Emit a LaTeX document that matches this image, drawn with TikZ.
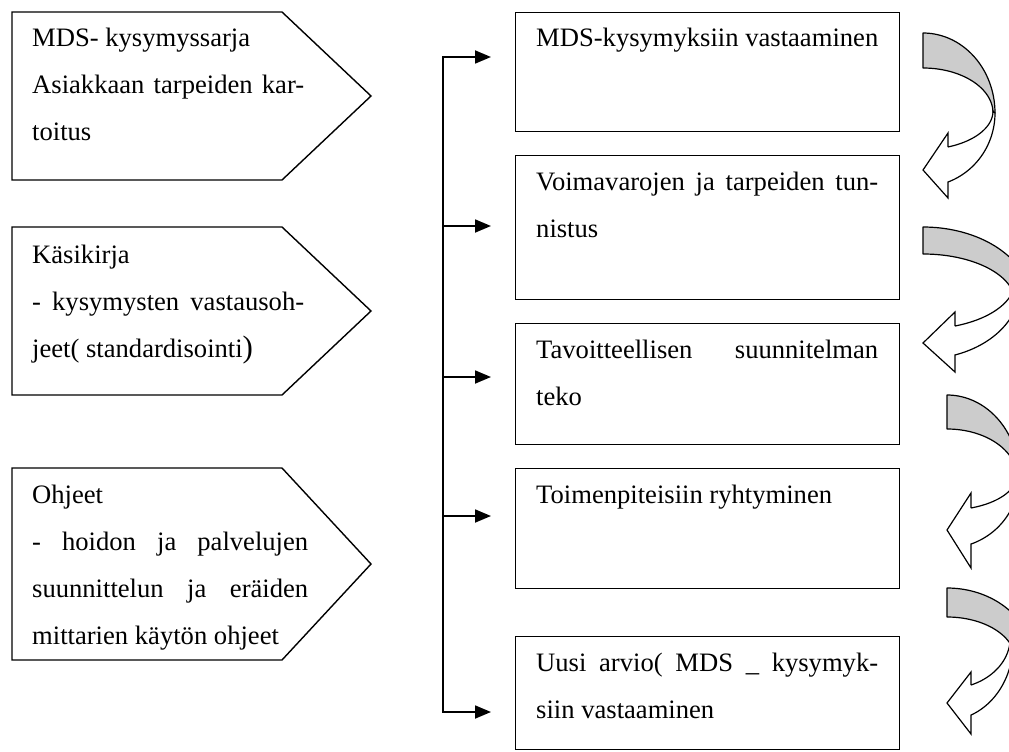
\documentclass[tikz,border=0pt]{standalone}
\usepackage{fontspec}
\setmainfont{Liberation Serif}
\usetikzlibrary{arrows.meta}
\begin{document}
\begin{tikzpicture}[x=1pt,y=-1pt,
  tagshape/.style={draw=black, line width=1.4pt, line join=miter},
  rbox/.style={draw=black, line width=1.4pt, rectangle, inner sep=0pt, anchor=north west},
  txt/.style={anchor=base west, inner sep=0pt, font=\fontsize{26.6}{47}\selectfont},
  bus/.style={line width=1.8pt},
  feed/.style={line width=1.8pt, -{Triangle[length=16pt,width=13pt]}},
  backband/.style={fill=black!20, draw=black, line width=1.2pt, line join=round},
  frontband/.style={fill=white, draw=black, line width=1.2pt, line join=miter},
]
\useasboundingbox (0,0) rectangle (1009,752);
\fill[white] (0,0) rectangle (1009,752);

% ---- source documents (tag shapes) ----
\draw[tagshape] (12,12) -- (282,12) -- (371,96) -- (282,180) -- (12,180) -- cycle;
\draw[tagshape] (12,227) -- (282,227) -- (371,311) -- (282,395) -- (12,395) -- cycle;
\draw[tagshape] (12,468) -- (282,468) -- (371,564) -- (282,660) -- (12,660) -- cycle;

\node[txt] (p1) at (32,47) {\parbox[t]{280pt}{MDS- kysymyssarja\\
  \makebox[272pt][s]{Asiakkaan tarpeiden kar-}\\
  toitus}};
\node[txt] (p2) at (32,263) {\parbox[t]{280pt}{Käsikirja\\
  \makebox[272pt][s]{- kysymysten vastausoh-}\\
  jeet( standardisointi{\fontsize{31}{47}\selectfont )}}};
\node[txt] (p3) at (32,503) {\parbox[t]{280pt}{Ohjeet\\
  \makebox[276pt][s]{- hoidon ja palvelujen}\\
  \makebox[276pt][s]{suunnittelun ja eräiden}\\
  mittarien käytön ohjeet}};

% ---- process steps ----
\node[rbox, minimum width=384pt, minimum height=119pt] (b1) at (515,12) {};
\node[rbox, minimum width=384pt, minimum height=144pt] (b2) at (515,155) {};
\node[rbox, minimum width=384pt, minimum height=121pt] (b3) at (515,323) {};
\node[rbox, minimum width=384pt, minimum height=120pt] (b4) at (515,468) {};
\node[rbox, minimum width=384pt, minimum height=113pt] (b5) at (515,636) {};

\node[txt] (t1) at (536,47) {MDS-kysymyksiin vastaaminen};
\node[txt] (t2) at (536,190) {\parbox[t]{350pt}{%
  \makebox[342pt][s]{Voimavarojen ja tarpeiden tun-}\\
  nistus}};
\node[txt] (t3) at (536,358) {\parbox[t]{350pt}{%
  \makebox[342pt][s]{Tavoitteellisen suunnitelman}\\
  teko}};
\node[txt] (t4) at (536,503) {Toimenpiteisiin ryhtyminen};
\node[txt] (t5) at (536,671) {\parbox[t]{350pt}{%
  \makebox[342pt][s]{Uusi arvio( MDS \_ kysymyk-}\\
  siin vastaaminen}};

% ---- distribution bus ----
\coordinate (j1) at (443,57);
\coordinate (j2) at (443,226);
\coordinate (j3) at (443,377);
\coordinate (j4) at (443,516);
\coordinate (j5) at (443,712);
\coordinate (a1) at (491,57);
\coordinate (a2) at (491,226);
\coordinate (a3) at (491,377);
\coordinate (a4) at (491,516);
\coordinate (a5) at (491,712);

\draw[feed] (j3) -- (j1) -- (a1);
\draw[feed] (j3) -- (j5) -- (a5);
\draw[feed] (j2) -- (a2);
\draw[feed] (j3) -- (a3);
\draw[feed] (j4) -- (a4);

% ---- curved return arrows ----
\begin{scope}
\clip (0,0) rectangle (1009,752);

\begin{scope}[shift={(923,33)}]
  \path[backband] plot[domain=0:90, samples=40] ({72*cos(\x-90)},{80+80*sin(\x-90)})
    -- plot[domain=0:90, samples=40] ({70*cos(-\x)},{80+45*sin(-\x)}) -- cycle;
  \path[frontband] plot[domain=0:69.68, samples=40] ({72*cos(\x)},{80+73.6*sin(\x)})
    -- (25,165) -- (0,137) -- (25,100) -- (25,114)
    -- plot[domain=0:69.08, samples=40] ({70*cos(69.08-\x)},{78+38.5*sin(69.08-\x)}) -- cycle;
\end{scope}

\begin{scope}[shift={(923,227)}]
  \path[backband] plot[domain=0:90, samples=40] ({108*cos(\x-90)},{75+75*sin(\x-90)})
    -- plot[domain=0:90, samples=40] ({92*cos(-\x)},{75+48*sin(-\x)}) -- cycle;
  \path[frontband] plot[domain=0:70.74, samples=40] ({97*cos(\x)},{60+72*sin(\x)})
    -- (32,145) -- (0,116) -- (32,85) -- (32,99)
    -- plot[domain=0:69.65, samples=40] ({92*cos(69.65-\x)},{54+48*sin(69.65-\x)}) -- cycle;
\end{scope}

\begin{scope}[shift={(947,395)}]
  \path[backband] plot[domain=0:90, samples=40] ({72*cos(\x-90)},{82+82*sin(\x-90)})
    -- plot[domain=0:90, samples=40] ({70*cos(-\x)},{82+48*sin(-\x)}) -- cycle;
  \path[frontband] plot[domain=0:70.53, samples=40] ({72*cos(\x)},{82+71.1*sin(\x)})
    -- (24,173) -- (0,135) -- (24,98) -- (24,113)
    -- plot[domain=0:69.95, samples=40] ({70*cos(69.95-\x)},{80+35.1*sin(69.95-\x)}) -- cycle;
\end{scope}

\begin{scope}[shift={(947,588)}]
  \path[backband] plot[domain=0:90, samples=40] ({86*cos(\x-90)},{72+72*sin(\x-90)})
    -- plot[domain=0:90, samples=40] ({68.3*cos(-\x)},{72+43*sin(-\x)}) -- cycle;
  \path[frontband] plot[domain=0:68.74, samples=40] ({66.2*cos(\x)},{55+77.3*sin(\x)})
    -- (24,146) -- (0,115) -- (24,84) -- (24,97)
    -- plot[domain=0:67.68, samples=40] ({63.2*cos(67.68-\x)},{50+50.8*sin(67.68-\x)}) -- cycle;
\end{scope}
\end{scope}

\end{tikzpicture}
\end{document}
